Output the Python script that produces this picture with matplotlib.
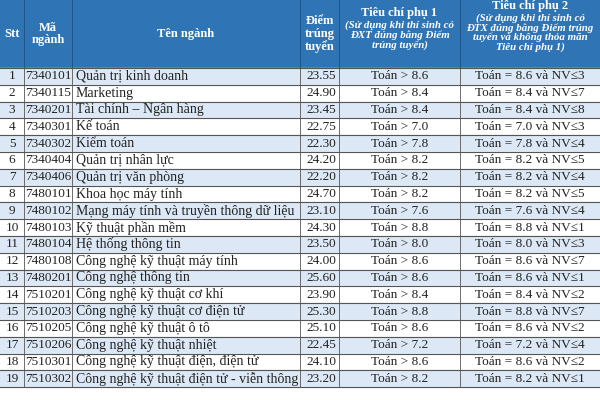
import matplotlib.pyplot as plt
from matplotlib.patches import Rectangle

plt.rcParams['font.family'] = ['Liberation Serif', 'DejaVu Serif']

stt = [str(i) for i in range(1, 20)]
ma_nganh = ['7340101', '7340115', '7340201', '7340301', '7340302', '7340404', '7340406',
            '7480101', '7480102', '7480103', '7480104', '7480108', '7480201', '7510201',
            '7510203', '7510205', '7510206', '7510301', '7510302']
ten_nganh = ['Quản trị kinh doanh', 'Marketing', 'Tài chính – Ngân hàng', 'Kế toán', 'Kiểm toán',
             'Quản trị nhân lực', 'Quản trị văn phòng', 'Khoa học máy tính',
             'Mạng máy tính và truyền thông dữ liệu', 'Kỹ thuật phần mềm', 'Hệ thống thông tin',
             'Công nghệ kỹ thuật máy tính', 'Công nghệ thông tin', 'Công nghệ kỹ thuật cơ khí',
             'Công nghệ kỹ thuật cơ điện tử', 'Công nghệ kỹ thuật ô tô', 'Công nghệ kỹ thuật nhiệt',
             'Công nghệ kỹ thuật điện, điện tử', 'Công nghệ kỹ thuật điện tử - viễn thông']
diem = ['23.55', '24.90', '23.45', '22.75', '22.30', '24.20', '22.20', '24.70', '23.10', '24.30',
        '23.50', '24.00', '25.60', '23.90', '25.30', '25.10', '22.45', '24.10', '23.20']
toan1 = ['8.6', '8.4', '8.4', '7.0', '7.8', '8.2', '8.2', '8.2', '7.6', '8.8',
         '8.0', '8.6', '8.6', '8.4', '8.8', '8.6', '7.2', '8.6', '8.2']
nv = ['3', '7', '8', '3', '4', '5', '4', '5', '4', '1', '3', '7', '1', '2', '7', '2', '4', '2', '1']

headers = ['Stt', 'Mã\nngành', 'Tên ngành', 'Điểm\ntrúng\ntuyển']
col_x = [0, 24, 72, 300, 339, 460, 600]
header_h = 68
row_h = 16.8

fig = plt.figure(figsize=(6, 4), dpi=100)
ax = fig.add_axes([0, 0, 1, 1])
ax.set_xlim(0, 600)
ax.set_ylim(400, 0)
ax.axis('off')

blue = '#2f74b5'
light = '#dce8f5'
ax.add_patch(Rectangle((0, 0), 600, header_h, color=blue))
for i, h in enumerate(headers):
    ax.text((col_x[i] + col_x[i + 1]) / 2, header_h / 2, h, ha='center', va='center',
            color='white', fontsize=9, fontweight='bold', linespacing=1.1)
sub = [('Tiêu chí phụ 1', '(Sử dụng khi thí sinh có\nĐXT đúng bằng Điểm\ntrúng tuyển)'),
       ('Tiêu chí phụ 2', '(Sử dụng khi thí sinh có\nĐTX đúng bằng Điểm trúng\ntuyển và không thỏa mãn\nTiêu chí phụ 1)')]
for k, (t, s) in enumerate(sub):
    cx = (col_x[4 + k] + col_x[5 + k]) / 2
    top = 13 if k == 0 else 6
    ax.text(cx, top, t, ha='center', va='center', color='white', fontsize=9, fontweight='bold')
    ax.text(cx, top + 7, s, ha='center', va='top', color='white', fontsize=7.8,
            fontweight='bold', fontstyle='italic', linespacing=1.0)
for x in col_x[1:-1]:
    ax.plot([x, x], [0, header_h], color='#1d4f80', lw=0.6)

for r in range(len(stt)):
    y0 = header_h + r * row_h
    yc = y0 + row_h / 2
    ax.add_patch(Rectangle((0, y0), 600, row_h, color=light if r % 2 == 0 else 'white'))
    ax.plot([0, 600], [y0 + row_h, y0 + row_h], color='#555555', lw=0.8)
    vals = [stt[r], ma_nganh[r], ten_nganh[r], diem[r],
            'Toán > ' + toan1[r], 'Toán = ' + toan1[r] + ' và NV≤' + nv[r]]
    for i, v in enumerate(vals):
        if i == 2:
            ax.text(col_x[2] + 4, yc, v, ha='left', va='center', fontsize=10, color='#222222')
        elif i == 3:
            ax.text(col_x[3] + 6, yc, v, ha='left', va='center', fontsize=9.5, color='#222222')
        else:
            ax.text((col_x[i] + col_x[i + 1]) / 2, yc, v, ha='center', va='center',
                    fontsize=9.5, color='#222222')
bottom = header_h + len(stt) * row_h
for x in col_x[1:-1]:
    ax.plot([x, x], [header_h, bottom], color='#555555', lw=0.6)
ax.plot([0, 600], [header_h, header_h], color='#555555', lw=0.8)

fig.savefig('out.png', dpi=100)
